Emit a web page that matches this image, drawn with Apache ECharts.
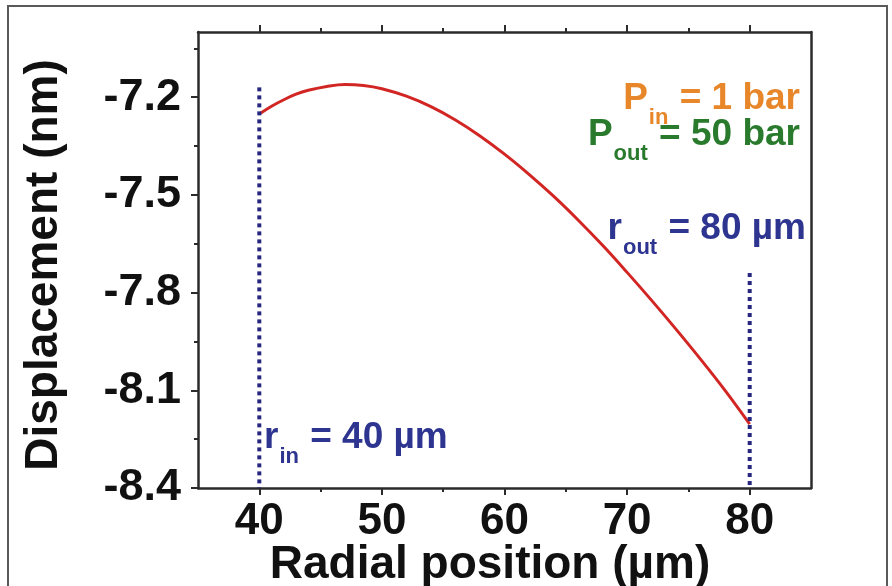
<!DOCTYPE html>
<html>
<head>
<meta charset="utf-8">
<script src="https://cdn.jsdelivr.net/npm/echarts@6/dist/echarts.min.js"></script>
<style>
  html, body { margin: 0; padding: 0; background: #ffffff; }
  #chart { width: 892px; height: 586px; }
</style>
</head>
<body>
<div id="chart"></div>
<script>
// ---- data ----
const radialPosition = [40, 41, 42, 43, 44, 45.5, 47, 48.5, 50, 52, 54, 56, 58, 60, 62, 64, 66, 68, 70, 72, 74, 76, 78, 80];
const displacement = [-7.252, -7.228, -7.208, -7.191, -7.179, -7.167, -7.161, -7.164, -7.174, -7.197, -7.229, -7.270, -7.319, -7.375, -7.437, -7.504, -7.577, -7.655, -7.738, -7.824, -7.913, -8.005, -8.101, -8.204];
const innerRadiusLineX = [40, 40];
const innerRadiusLineY = [-7.17, -8.4];
const outerRadiusLineX = [80, 80];
const outerRadiusLineY = [-7.74, -8.4];
const xMajorTicks = [40, 50, 60, 70, 80];
const xMinorTicks = [45, 55, 65, 75];
const yMajorTicks = [-8.4, -8.1, -7.8, -7.5, -7.2];
const yMinorTicks = [-8.25, -7.95, -7.65, -7.35, -7.05];
const xTitle = 'Radial position (\u00b5m)';
const yTitle = 'Displacement (nm)';

const FONT = '"Liberation Sans", Arial, Helvetica, sans-serif';
const AXIS_COLOR = '#2b2b2b';
const NAVY = '#2d3590';
const DOT_NAVY = '#26287f';

const chart = echarts.init(document.getElementById('chart'), null, { renderer: 'canvas' });

function xAx(pos, ticks, len, showLine, showLabel) {
  return {
    type: 'value', min: 35, max: 85, position: pos,
    axisLine: { show: showLine, onZero: false, lineStyle: { color: AXIS_COLOR, width: 2.5 } },
    axisTick: { show: true, inside: false, length: len, customValues: ticks, lineStyle: { color: AXIS_COLOR, width: 2 } },
    axisLabel: showLabel ? {
      show: true, customValues: ticks, margin: 12,
      fontFamily: FONT, fontWeight: 'bold', fontSize: 44, color: '#111'
    } : { show: false },
    splitLine: { show: false }
  };
}
function yAx(pos, ticks, len, showLine, showLabel, showTick) {
  return {
    type: 'value', min: -8.4, max: -7.0, position: pos,
    axisLine: { show: showLine, onZero: false, lineStyle: { color: AXIS_COLOR, width: 2.5 } },
    axisTick: { show: showTick, inside: false, length: len, customValues: ticks, lineStyle: { color: AXIS_COLOR, width: 2 } },
    axisLabel: showLabel ? {
      show: true, customValues: ticks, margin: 17,
      fontFamily: FONT, fontWeight: 'bold', fontSize: 45, color: '#111',
      formatter: v => Number(v).toFixed(1)
    } : { show: false },
    splitLine: { show: false }
  };
}

function toPairs(xs, ys) { return xs.map((x, i) => [x, ys[i]]); }

const mainRich = (color) => ({
  m: { fontFamily: FONT, fontWeight: 'bold', fontSize: 37, lineHeight: 42, fill: color, verticalAlign: 'top' },
  s: { fontFamily: FONT, fontWeight: 'bold', fontSize: 22, lineHeight: 22, fill: color, verticalAlign: 'top', padding: [27, 1, 0, 1] }
});

const dotted = { color: DOT_NAVY, width: 4, type: [4, 4] };

const option = {
  animation: false,
  backgroundColor: '#ffffff',
  grid: { left: 198, right: 81, top: 32, bottom: 98, containLabel: false },
  xAxis: [
    xAx('bottom', xMajorTicks, 7, true, true),
    xAx('bottom', xMinorTicks, 4, false, false),
    xAx('top', xMajorTicks, 7, true, false),
    xAx('top', xMinorTicks, 4, false, false)
  ],
  yAxis: [
    yAx('left', yMajorTicks, 7, true, true, true),
    yAx('left', yMinorTicks, 4, false, false, true),
    yAx('right', yMajorTicks, 0, true, false, false)
  ],
  series: [
    {
      type: 'line', xAxisIndex: 0, yAxisIndex: 0,
      data: toPairs(radialPosition, displacement),
      smooth: 0.4, showSymbol: false, silent: true,
      lineStyle: { color: '#d22624', width: 3 }, z: 2
    },
    {
      type: 'line', xAxisIndex: 0, yAxisIndex: 0,
      data: toPairs(innerRadiusLineX, innerRadiusLineY),
      showSymbol: false, silent: true, lineStyle: dotted, z: 3
    },
    {
      type: 'line', xAxisIndex: 0, yAxisIndex: 0,
      data: toPairs(outerRadiusLineX, outerRadiusLineY),
      showSymbol: false, silent: true, lineStyle: dotted, z: 3
    }
  ],
  graphic: [
    { type: 'rect', shape: { x: 8, y: 6, width: 879, height: 600 }, style: { fill: 'none', stroke: '#5a5a5a', lineWidth: 2 }, silent: true, z: -1 },
    {
      type: 'text', x: 44, y: 265, rotation: Math.PI / 2,
      style: { text: yTitle, font: 'bold 46px ' + FONT, fill: '#111', textAlign: 'center', textVerticalAlign: 'middle' },
      silent: true
    },
    {
      type: 'text', x: 490, y: 565,
      style: { text: xTitle, font: 'bold 46px ' + FONT, fill: '#111', textAlign: 'center', textVerticalAlign: 'middle' },
      silent: true
    },
    {
      type: 'text', x: 800, y: 80,
      style: { text: '{m|P}{s|in}{m| = 1 bar}', rich: mainRich('#e8862a'), textAlign: 'right', textVerticalAlign: 'top' },
      silent: true
    },
    {
      type: 'text', x: 800, y: 116,
      style: { text: '{m|P}{s|out}{m| = 50 bar}', rich: mainRich('#2a7a2e'), textAlign: 'right', textVerticalAlign: 'top' },
      silent: true
    },
    {
      type: 'text', x: 806, y: 210,
      style: { text: '{m|r}{s|out}{m| = 80 \u00b5m}', rich: mainRich(NAVY), textAlign: 'right', textVerticalAlign: 'top' },
      silent: true
    },
    {
      type: 'text', x: 264, y: 419,
      style: { text: '{m|r}{s|in}{m| = 40 \u00b5m}', rich: mainRich(NAVY), textAlign: 'left', textVerticalAlign: 'top' },
      silent: true
    }
  ]
};
chart.setOption(option);
</script>
</body>
</html>
